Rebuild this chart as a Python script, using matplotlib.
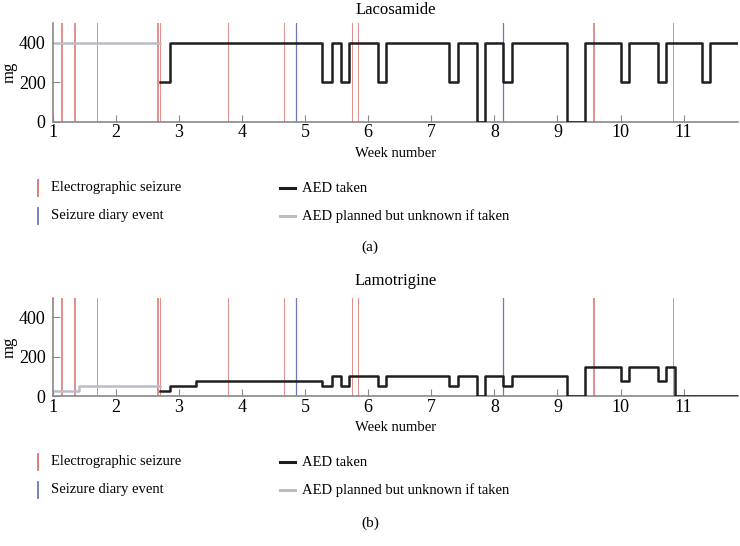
import numpy as np
from matplotlib import pyplot as plt
from matplotlib.lines import Line2D

plt.rcParams['font.family'] = ['Liberation Serif', 'DejaVu Serif']

# seizure events (week number)
electro_weeks = [1.135, 1.15, 1.332, 1.353, 1.706, 2.646, 2.671, 2.703,
                 3.778, 4.665, 5.736, 5.842, 9.560, 9.585, 10.835]
diary_weeks = [4.854, 8.141]

# Lacosamide doses (mg), step changes
lac_t = [2.70, 2.856, 5.272, 5.425, 5.562, 5.704, 6.152, 6.285, 7.287, 7.424,
         7.719, 7.851, 8.141, 8.283, 9.148, 9.433, 10.013, 10.139, 10.589,
         10.720, 11.294, 11.411, 11.86]
lac_dose = [200, 400, 200, 400, 200, 400, 200, 400, 200, 400,
            0, 400, 200, 400, 0, 400, 200, 400, 200,
            400, 200, 400, 400]
lac_plan_t = [1.0, 2.70]
lac_plan_dose = [400, 400]

# Lamotrigine doses (mg)
lam_t = [2.70, 2.856, 3.278, 5.272, 5.425, 5.562, 5.704, 6.152, 6.285, 7.287,
         7.424, 7.719, 7.851, 8.141, 8.283, 9.148, 9.433, 10.013, 10.139,
         10.589, 10.720, 10.862, 11.86]
lam_dose = [25, 50, 75, 50, 100, 50, 100, 50, 100, 50,
            100, 0, 100, 50, 100, 0, 150, 75, 150,
            75, 150, 0, 0]
lam_plan_t = [1.0, 1.416, 2.70]
lam_plan_dose = [25, 50, 50]

legend_labels = ['Electrographic seizure', 'Seizure diary event',
                 'AED taken', 'AED planned but unknown if taken']

RED = '#d8726c'
BLUE = '#6f78b4'
BLACK = '#1e1e1e'
GRAY = '#b9bec6'

W, H = 740, 546


def px(x, y):
    """pixel (from top-left) -> figure fraction"""
    return x / W, 1 - y / H


def legend(fig, y1, y2):
    rows = [y1, y2]
    # vertical markers for events
    for y, c in zip(rows, [RED, BLUE]):
        (xa, ya), (xb, yb) = px(38, y - 8), px(38, y + 8)
        fig.add_artist(Line2D([xa, xb], [ya, yb], color=c, lw=1.3))
    # short dashes for dose lines
    for y, c in zip(rows, [BLACK, GRAY]):
        (xa, ya), (xb, yb) = px(280, y), px(295, y)
        fig.add_artist(Line2D([xa, xb], [ya, yb], color=c, lw=2.2))
    for (x, y), lab in zip([(51, y1), (51, y2), (302, y1), (302, y2)],
                           legend_labels):
        fx, fy = px(x, y)
        fig.text(fx, fy, lab, ha='left', va='center', fontsize=10.5)


def panel(fig, rect, title, t, dose, pt, pdose, tpad):
    ax = fig.add_axes(rect)
    for w in electro_weeks:
        ax.axvline(w, color=RED, lw=0.7, alpha=0.8, zorder=1)
    for w in diary_weeks:
        ax.axvline(w, color=BLUE, lw=0.9, zorder=1)
    ax.step(pt, pdose, where='post', color=GRAY, lw=1.8, zorder=2)
    ax.step(t, dose, where='post', color=BLACK, lw=1.8, zorder=3)

    ax.set_xlim(1, 11.86)
    ax.set_ylim(0, 500)
    ax.set_xticks(range(1, 12))
    ax.set_yticks([0, 200, 400])
    ax.tick_params(direction='in', length=5, color='#888888', labelsize=13)
    ax.tick_params(axis='y', pad=5)
    ax.tick_params(axis='x', pad=2)
    for s in ['top', 'right']:
        ax.spines[s].set_visible(False)
    for s in ['left', 'bottom']:
        ax.spines[s].set_color('#888888')
        ax.spines[s].set_linewidth(1.2)
    ax.set_ylabel('mg', fontsize=12, labelpad=1)
    ax.set_xlabel('Week number', fontsize=10.5, labelpad=4)
    ax.set_title(title, fontsize=12, pad=tpad)
    return ax


fig = plt.figure(figsize=(7.4, 5.46), dpi=100)
panel(fig, [0.0712, 0.7771, 0.926, 0.1802], 'Lacosamide',
      lac_t, lac_dose, lac_plan_t, lac_plan_dose, 7)
legend(fig, 188, 216)
fig.text(0.5, 1 - 247 / H, '(a)', ha='center', va='center', fontsize=11)

panel(fig, [0.0712, 0.2747, 0.926, 0.1800], 'Lamotrigine',
      lam_t, lam_dose, lam_plan_t, lam_plan_dose, 9)
legend(fig, 462, 490)
fig.text(0.5, 1 - 523 / H, '(b)', ha='center', va='center', fontsize=11)

fig.savefig('out.png', dpi=100)
